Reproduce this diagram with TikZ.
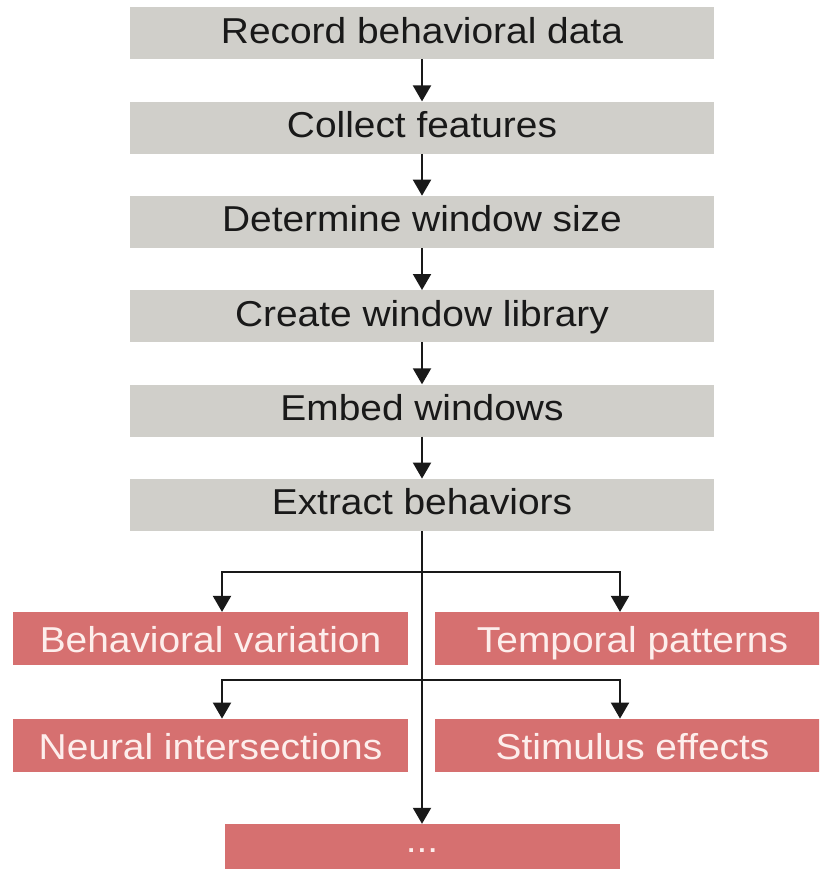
\documentclass[tikz,border=0pt]{standalone}
\usepackage{fontspec}
\usepackage{graphicx}
\setmainfont{Liberation Sans}
\usetikzlibrary{arrows.meta}
\definecolor{boxgray}{RGB}{208,207,202}
\definecolor{boxred}{RGB}{214,112,112}
\definecolor{txtlight}{RGB}{253,238,236}
\definecolor{txtdark}{RGB}{25,25,25}
\newcommand{\hstretch}[1]{\scalebox{1.08}[1]{#1}}
\begin{document}
\begin{tikzpicture}[x=1pt,y=-1pt,
  graybox/.style={fill=boxgray, minimum width=584pt, minimum height=52pt, inner sep=0pt,
    text=txtdark, font=\fontsize{36}{40}\selectfont, text height=26.7pt, text depth=6.7pt},
  redbox/.style={fill=boxred, minimum width=395pt, minimum height=53pt, inner sep=0pt,
    text=txtlight, font=\fontsize{36}{40}\selectfont, text height=30.4pt, text depth=3pt},
  dotsbox/.style={fill=boxred, minimum width=395pt, minimum height=53pt, inner sep=0pt,
    text=txtlight, font=\fontsize{36}{40}\selectfont},
  conn/.style={line width=2pt, draw=black!90, -{Triangle[width=18pt,length=16pt]}}]
\useasboundingbox (0,0) rectangle (819,869);
\clip (0,0) rectangle (819,869);
\fill[white] (0,0) rectangle (819,869);

\node[graybox] (g1) at (422,33.3) {\hstretch{Record behavioral data}};
\node[graybox] (g2) at (422,127.6) {\hstretch{Collect features}};
\node[graybox] (g3) at (422,221.9) {\hstretch{Determine window size}};
\node[graybox] (g4) at (422,316.2) {\hstretch{Create window library}};
\node[graybox] (g5) at (422,410.5) {\hstretch{Embed windows}};
\node[graybox] (g6) at (422,504.8) {\hstretch{Extract behaviors}};

\node[redbox] (r1) at (210.5,638.6) {\hstretch{Behavioral variation}};
\node[redbox] (r2) at (632.5,638.6) {\hstretch{Temporal patterns}};
\node[redbox] (r3) at (210.5,745.3) {\hstretch{Neural intersections}};
\node[redbox] (r4) at (632.5,745.3) {\hstretch{Stimulus effects}};
\node[dotsbox] (r5) at (422,850.5) {\hstretch{...}};

\draw[conn] (g1) -- (g2);
\draw[conn] (g2) -- (g3);
\draw[conn] (g3) -- (g4);
\draw[conn] (g4) -- (g5);
\draw[conn] (g5) -- (g6);

\coordinate (b1) at (422,572);
\coordinate (b2) at (422,680);
\draw[conn] (g6) -- (r5);
\draw[conn] (b1) -| ([xshift=11.5pt]r1.north);
\draw[conn] (b1) -| ([xshift=-12.5pt]r2.north);
\draw[conn] (b2) -| ([xshift=11.5pt]r3.north);
\draw[conn] (b2) -| ([xshift=-12.5pt]r4.north);
\end{tikzpicture}
\end{document}
